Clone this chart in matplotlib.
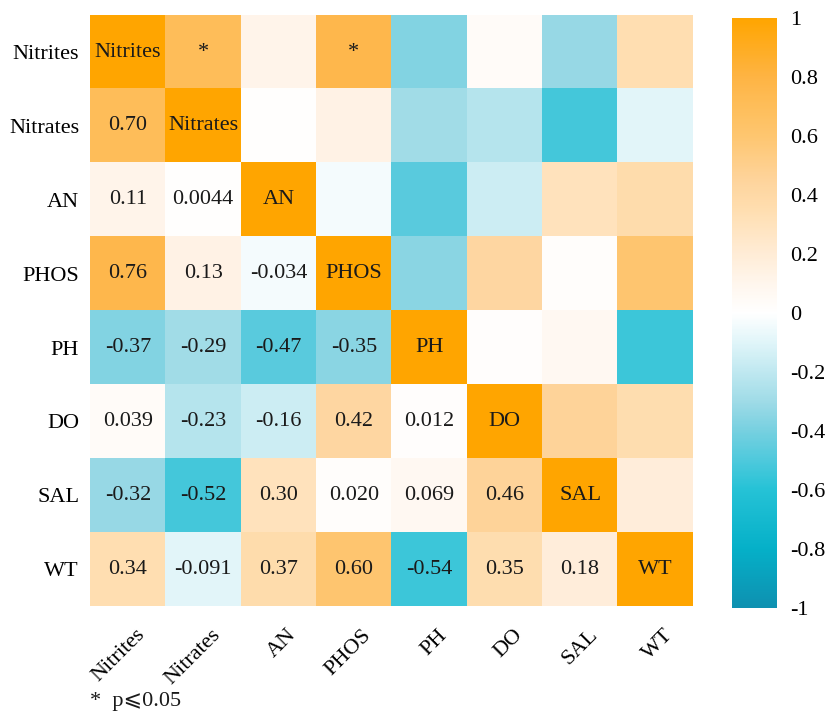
import numpy as np
import matplotlib
matplotlib.use("Agg")
import matplotlib.pyplot as plt
import matplotlib.transforms as mtransforms
from matplotlib.colors import LinearSegmentedColormap

plt.rcParams['font.family'] = ['Liberation Serif', 'DejaVu Sans']

labels = ["Nitrites", "Nitrates", "AN", "PHOS", "PH", "DO", "SAL", "WT"]

# lower-triangle correlation coefficients, row by row
lower = [
    [],
    [0.70],
    [0.11, 0.0044],
    [0.76, 0.13, -0.034],
    [-0.37, -0.29, -0.47, -0.35],
    [0.039, -0.23, -0.16, 0.42, 0.012],
    [-0.32, -0.52, 0.30, 0.020, 0.069, 0.46],
    [0.34, -0.091, 0.37, 0.60, -0.54, 0.35, 0.18],
]

# significant pairs (row, col) marked in the upper triangle
significant = [(0, 1), (0, 3)]

n = len(labels)
corr = np.eye(n)
for i, row in enumerate(lower):
    for j, v in enumerate(row):
        corr[i, j] = v
        corr[j, i] = v

# teal -> white -> orange, stops given on the -1..1 scale
stops = [
    (-1.0, "#0e90b0"), (-0.8, "#05b0c8"), (-0.6, "#25c2d6"), (-0.5, "#4ec9dc"),
    (-0.4, "#76d0e0"), (-0.3, "#9fdbe7"), (-0.2, "#bfe8f0"), (-0.1, "#e0f5f9"),
    (0.0, "#ffffff"), (0.1, "#fff6ed"), (0.2, "#ffecd6"), (0.35, "#ffdeb0"),
    (0.45, "#fed49c"), (0.6, "#fec670"), (0.7, "#febe5a"), (0.8, "#feb444"),
    (1.0, "#ffa500"),
]
cmap = LinearSegmentedColormap.from_list(
    "tealorange", [((v + 1) / 2, c) for v, c in stops], N=512
)

fig = plt.figure(figsize=(8.35, 7.19), dpi=100)
ax = fig.add_axes([0.108, 0.157, 0.722, 0.822])
im = ax.imshow(corr, cmap=cmap, vmin=-1, vmax=1, aspect="auto")

for i in range(n):
    for j in range(n):
        if i == j:
            txt = labels[i]
        elif i > j:
            txt = f"{corr[i, j]:#.2g}"
        elif (i, j) in significant:
            txt = "*"
        else:
            continue
        ax.text(j, i, txt, ha="center", va="center", fontsize=16, color="#1a1a1a")

ax.set_xticks(range(n))
ax.set_yticks(range(n))
ax.set_xticklabels(labels, rotation=45, ha="right", rotation_mode="anchor", fontsize=16)
ax.set_yticklabels(labels, fontsize=16)
ax.tick_params(axis="y", length=0, pad=8)
ax.tick_params(axis="x", length=0, pad=14)
shift = mtransforms.ScaledTranslation(8 / 100, 0, fig.dpi_scale_trans)
for lab in ax.get_xticklabels():
    lab.set_transform(lab.get_transform() + shift)
for s in ax.spines.values():
    s.set_visible(False)

cax = fig.add_axes([0.877, 0.154, 0.053, 0.821])
cb = fig.colorbar(im, cax=cax, ticks=np.linspace(-1, 1, 11))
cb.ax.set_yticklabels(["-1", "-0.8", "-0.6", "-0.4", "-0.2", "0", "0.2", "0.4", "0.6", "0.8", "1"])
cb.ax.tick_params(length=0, labelsize=16, pad=10)
cb.outline.set_visible(False)

fig.text(0.108, 0.018, "*  p⩽0.05", fontsize=16, color="#1a1a1a")

fig.savefig("out.png", dpi=100, facecolor="white")
